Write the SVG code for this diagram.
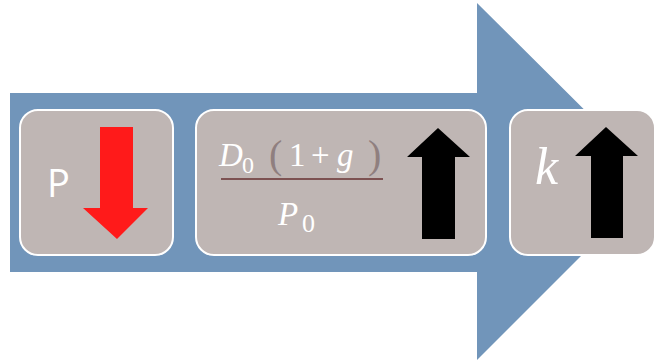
<svg xmlns="http://www.w3.org/2000/svg" width="658" height="362" viewBox="0 0 658 362">
<style>
.box{fill:#bfb6b4;stroke:#ffffff;stroke-width:2}
.w{fill:#ffffff;font-family:"Liberation Serif",serif}
.it{font-style:italic}
.par{fill:#8f7f7f;font-family:"Liberation Serif",serif}
</style>
<rect width="658" height="362" fill="#ffffff"/>
<g id="big-arrow">
<polygon points="10,93 477,93 477,3 656,181 477,360 477,272 10,272" fill="#7195ba"/>
</g>
<g id="node-p">
<rect class="box" x="20" y="110" width="153" height="145" rx="18"/>
<text x="47" y="197" font-family="'Open Sans',sans-serif" font-size="38" fill="#ffffff">P</text>
<polygon points="100,127 133,127 133,208 148,208 117,239 83,208 100,208" fill="#ff1a1a"/>
</g>
<g id="node-ratio">
<rect class="box" x="196" y="110" width="290" height="145" rx="18"/>
<text class="w it" x="219" y="166" font-size="33">D</text>
<text class="w" x="242" y="173" font-size="24">0</text>
<text class="par" x="269" y="168" font-size="40">(</text>
<text class="w" x="289" y="166" font-size="33">1</text>
<text class="w" x="311" y="166" font-size="33">+</text>
<text class="w it" x="337" y="166" font-size="33">g</text>
<text class="par" x="368" y="168" font-size="40">)</text>
<rect x="221" y="178" width="162" height="2" fill="#7d5252"/>
<text class="w it" x="278" y="225" font-size="33">P</text>
<text class="w" x="302" y="232" font-size="26">0</text>
<polygon points="422,239 455,239 455,157 470,157 438,128 407,157 422,157" fill="#000000"/>
</g>
<g id="node-k">
<rect class="box" x="510" y="110" width="145" height="145" rx="18"/>
<text class="w it" x="535" y="184" font-size="52">k</text>
<polygon points="591,238 623,238 623,156 638,156 606,127 575,156 591,156" fill="#000000"/>
</g>
<g id="connectors"></g>
</svg>
